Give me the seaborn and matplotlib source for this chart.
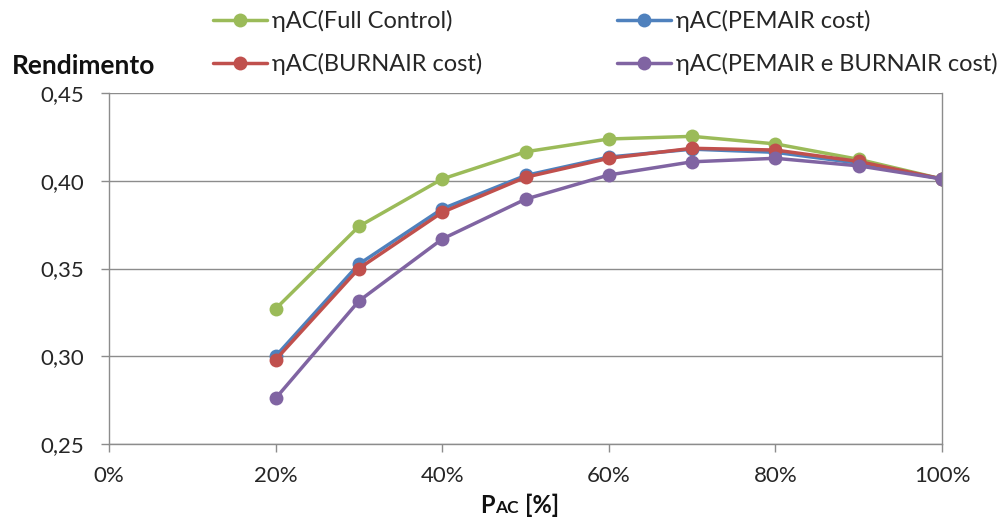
import matplotlib
matplotlib.use("Agg")
import matplotlib.pyplot as plt
import seaborn as sns
import pandas as pd
from matplotlib.ticker import FuncFormatter

# Load fraction of the AC unit (%) and efficiency for each control strategy
load_pct = [20, 30, 40, 50, 60, 70, 80, 90, 100]
eta_full = [0.327, 0.374, 0.401, 0.4165, 0.4238, 0.4253, 0.421, 0.4122, 0.401]
eta_pemair = [0.300, 0.3525, 0.384, 0.403, 0.4135, 0.418, 0.4162, 0.410, 0.401]
eta_burnair = [0.298, 0.350, 0.382, 0.402, 0.4128, 0.4185, 0.4175, 0.411, 0.401]
eta_both = [0.276, 0.3315, 0.3668, 0.3895, 0.4033, 0.4108, 0.4128, 0.4085, 0.401]

series_names = ["ηAC(Full Control)", "ηAC(PEMAIR cost)",
                "ηAC(BURNAIR cost)", "ηAC(PEMAIR e BURNAIR cost)"]
series_values = [eta_full, eta_pemair, eta_burnair, eta_both]
series_colors = ["#9BBB59", "#4F81BD", "#C0504D", "#8064A2"]

x_ticks = [0, 20, 40, 60, 80, 100]
y_ticks = [0.25, 0.30, 0.35, 0.40, 0.45]

rows = []
for name, vals in zip(series_names, series_values):
    for p, v in zip(load_pct, vals):
        rows.append({"load": p, "eta": v, "serie": name})
df = pd.DataFrame(rows)

sns.set_theme(style="white")
plt.rcParams["font.family"] = ["Lato", "DejaVu Sans"]

fig = plt.figure(figsize=(10, 5.19), dpi=100)
ax = fig.add_axes([0.109, 0.1445, 0.833, 0.6763])

sns.lineplot(data=df, x="load", y="eta", hue="serie", hue_order=series_names,
             palette=series_colors, marker="o", markersize=10,
             markeredgewidth=0, linewidth=2.5, ax=ax, legend=False,
             sort=False)

ax.set_xlim(0, 100)
ax.set_ylim(0.25, 0.45)
ax.set_xticks(x_ticks)
ax.set_yticks(y_ticks)
ax.xaxis.set_major_formatter(FuncFormatter(lambda v, _: f"{v:.0f}%"))
ax.yaxis.set_major_formatter(FuncFormatter(lambda v, _: f"{v:.2f}".replace(".", ",")))

grid_color = "#8C8C8C"
ax.yaxis.grid(True, color=grid_color, linewidth=1.0)
ax.xaxis.grid(False)
ax.set_axisbelow(True)
for side in ["left", "bottom", "right"]:
    ax.spines[side].set_visible(True)
    ax.spines[side].set_color(grid_color)
    ax.spines[side].set_linewidth(1.0)
ax.spines["top"].set_visible(False)
ax.tick_params(axis="both", which="major", direction="out", length=6,
               width=1.0, color=grid_color, labelsize=16,
               labelcolor="#262626", left=True, bottom=True)
ax.tick_params(axis="y", pad=12)
ax.tick_params(axis="x", pad=10)
ax.set_xlabel("")
ax.set_ylabel("")

# Axis titles
fig.text(0.012, 1 - 74 / 519, "Rendimento", fontsize=19, fontweight="bold",
         color="#111111", ha="left", va="baseline")
base_y = 1 - 513 / 519
fig.text(0.495, base_y, "P", fontsize=17, fontweight="bold", color="#111111",
         ha="right", va="baseline")
fig.text(0.4955, base_y, "AC", fontsize=12.5, fontweight="bold", color="#111111",
         ha="left", va="baseline")
fig.text(0.525, base_y, "[%]", fontsize=17, fontweight="bold", color="#111111",
         ha="left", va="baseline")

# Legend laid out row by row: (Full, PEMAIR) / (BURNAIR, both)
handles = [plt.Line2D([], [], color=c, marker="o", markersize=10,
                      markeredgewidth=0, linewidth=2.5) for c in series_colors]
order = [0, 2, 1, 3]
fig.legend([handles[i] for i in order], [series_names[i] for i in order],
           ncol=2, frameon=False, loc="upper left",
           bbox_to_anchor=(0.213, 1 - 10 / 519), fontsize=17,
           handlelength=2.3, handletextpad=0.2, columnspacing=5.7,
           labelspacing=0.9, borderpad=0, borderaxespad=0,
           labelcolor="#262626")

fig.savefig("out.png", dpi=100, facecolor="white")
